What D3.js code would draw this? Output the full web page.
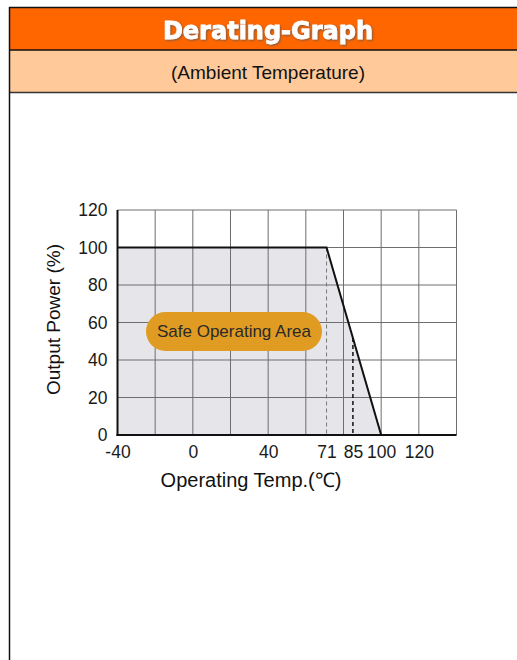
<!DOCTYPE html>
<html>
<head>
<meta charset="utf-8">
<script src="https://cdn.jsdelivr.net/npm/d3@7/dist/d3.min.js"></script>
<style>
  body { margin: 0; background: #fff; }
  svg { display: block; }
</style>
</head>
<body>
<script>
//! CONSTS
const WIDTH = 517
const HEIGHT = 660

//! DATA
const derating = [[-40, 100], [71, 100], [100, 0]]
const xTicks = [-40, 0, 40, 71, 85, 100, 120]
const xGrid = [-20, 0, 20, 40, 60, 80, 100, 120, 140]
const yTicks = [0, 20, 40, 60, 80, 100, 120]
const dashedAt = [71, 85]

const svg = d3.select('body')
  .append('svg')
  .attr('width', WIDTH)
  .attr('height', HEIGHT)

//! PAGE FRAME
svg.append('rect').attr('x', 9).attr('y', 7).attr('width', 530).attr('height', 43).attr('fill', '#ff6600')
svg.append('rect').attr('x', 9).attr('y', 50).attr('width', 530).attr('height', 42).attr('fill', '#ffc999')
svg.append('line').attr('x1', 9).attr('x2', 540).attr('y1', 7.5).attr('y2', 7.5).attr('stroke', '#111').attr('stroke-width', 1.5)
svg.append('line').attr('x1', 9).attr('x2', 540).attr('y1', 50).attr('y2', 50).attr('stroke', '#111').attr('stroke-width', 1.5)
svg.append('line').attr('x1', 9).attr('x2', 540).attr('y1', 92.5).attr('y2', 92.5).attr('stroke', '#333').attr('stroke-width', 1.5)
svg.append('line').attr('x1', 9.5).attr('x2', 9.5).attr('y1', 7).attr('y2', HEIGHT).attr('stroke', '#111').attr('stroke-width', 1.5)

const defs = svg.append('defs')
defs.append('filter').attr('id', 'shadow')
  .append('feDropShadow').attr('dx', 1).attr('dy', 1).attr('stdDeviation', 0.8)
  .attr('flood-color', '#555').attr('flood-opacity', 0.8)

svg.append('text')
  .attr('x', 268).attr('y', 39)
  .attr('text-anchor', 'middle')
  .attr('font-family', 'DejaVu Sans')
  .attr('font-weight', 'bold')
  .attr('font-size', 24)
  .attr('fill', '#fff')
  .attr('stroke', '#fff')
  .attr('stroke-width', 0.8)
  .attr('filter', 'url(#shadow)')
  .text('Derating-Graph')

svg.append('text')
  .attr('x', 268).attr('y', 79)
  .attr('text-anchor', 'middle')
  .attr('font-family', 'Liberation Sans, Arial')
  .attr('font-size', 19)
  .attr('fill', '#111')
  .text('(Ambient Temperature)')

//! SCALES
const x = d3.scaleLinear().domain([-40, 140]).range([117.5, 456.5])
const y = d3.scaleLinear().domain([0, 120]).range([435, 210])

const plot = svg.append('g')

// filled safe area
plot.append('path')
  .datum(derating)
  .attr('fill', '#e6e6ea')
  .attr('d', d3.area().x(d => x(d[0])).y0(y(0)).y1(d => y(d[1])))

// grid
plot.append('g')
  .selectAll('line')
  .data(xGrid)
  .enter()
  .append('line')
  .attr('x1', d => x(d)).attr('x2', d => x(d))
  .attr('y1', y(120)).attr('y2', y(0))
  .attr('stroke', '#6e6e6e').attr('stroke-width', 1)

plot.append('g')
  .selectAll('line')
  .data(yTicks.filter(d => d > 0))
  .enter()
  .append('line')
  .attr('x1', x(-40)).attr('x2', x(140))
  .attr('y1', d => y(d)).attr('y2', d => y(d))
  .attr('stroke', '#6e6e6e').attr('stroke-width', 1)

// dashed markers
plot.append('line')
  .attr('x1', x(dashedAt[0])).attr('x2', x(dashedAt[0]))
  .attr('y1', y(100)).attr('y2', y(0))
  .attr('stroke', '#777').attr('stroke-width', 1)
  .attr('stroke-dasharray', '4,3')

const yAt85 = d3.scaleLinear().domain([derating[1][0], derating[2][0]]).range([derating[1][1], derating[2][1]])(dashedAt[1])
plot.append('line')
  .attr('x1', x(dashedAt[1])).attr('x2', x(dashedAt[1]))
  .attr('y1', y(yAt85)).attr('y2', y(0))
  .attr('stroke', '#111').attr('stroke-width', 1.5)
  .attr('stroke-dasharray', '4,3')

// curve
plot.append('path')
  .datum(derating)
  .attr('fill', 'none')
  .attr('stroke', '#111')
  .attr('stroke-width', 2)
  .attr('d', d3.line().x(d => x(d[0])).y(d => y(d[1])))

// axes lines
plot.append('line')
  .attr('x1', x(-40)).attr('x2', x(-40)).attr('y1', y(120)).attr('y2', y(0) + 1)
  .attr('stroke', '#111').attr('stroke-width', 2)
plot.append('line')
  .attr('x1', x(-40) - 1).attr('x2', x(140)).attr('y1', y(0)).attr('y2', y(0))
  .attr('stroke', '#111').attr('stroke-width', 2)

// tick labels
const yAxis = d3.axisLeft(y).tickValues(yTicks).tickSize(0).tickPadding(10)
const yG = plot.append('g').attr('transform', `translate(${x(-40)},0)`).call(yAxis)
yG.select('.domain').remove()
yG.selectAll('text').attr('font-family', 'Liberation Sans, Arial').attr('font-size', 17.5).attr('fill', '#1a1a1a')

const xAxis = d3.axisBottom(x).tickValues(xTicks).tickSize(0).tickPadding(11).tickFormat(d => String(d))
const xG = plot.append('g').attr('transform', `translate(0,${y(0)})`).call(xAxis)
xG.select('.domain').remove()
xG.selectAll('text').attr('font-family', 'Liberation Sans, Arial').attr('font-size', 17.5).attr('fill', '#1a1a1a')

// axis titles
svg.append('text')
  .attr('transform', `translate(60,${(210 + 435) / 2 - 3}) rotate(-90)`)
  .attr('text-anchor', 'middle')
  .attr('font-family', 'Liberation Sans, Arial')
  .attr('font-size', 19)
  .attr('fill', '#111')
  .text('Output Power (%)')

svg.append('text')
  .attr('x', 251).attr('y', 487)
  .attr('text-anchor', 'middle')
  .attr('font-family', 'Liberation Sans, Arial')
  .attr('font-size', 20)
  .attr('fill', '#111')
  .text('Operating Temp.(℃)')

// safe operating area label
const label = svg.append('g')
label.append('rect')
  .attr('x', 146).attr('y', 312)
  .attr('width', 176).attr('height', 39)
  .attr('rx', 19.5)
  .attr('fill', '#e09b22')
label.append('text')
  .attr('x', 234).attr('y', 337)
  .attr('text-anchor', 'middle')
  .attr('font-family', 'Liberation Sans, Arial')
  .attr('font-size', 17)
  .attr('fill', '#2a2a2a')
  .text('Safe Operating Area')
</script>
</body>
</html>
